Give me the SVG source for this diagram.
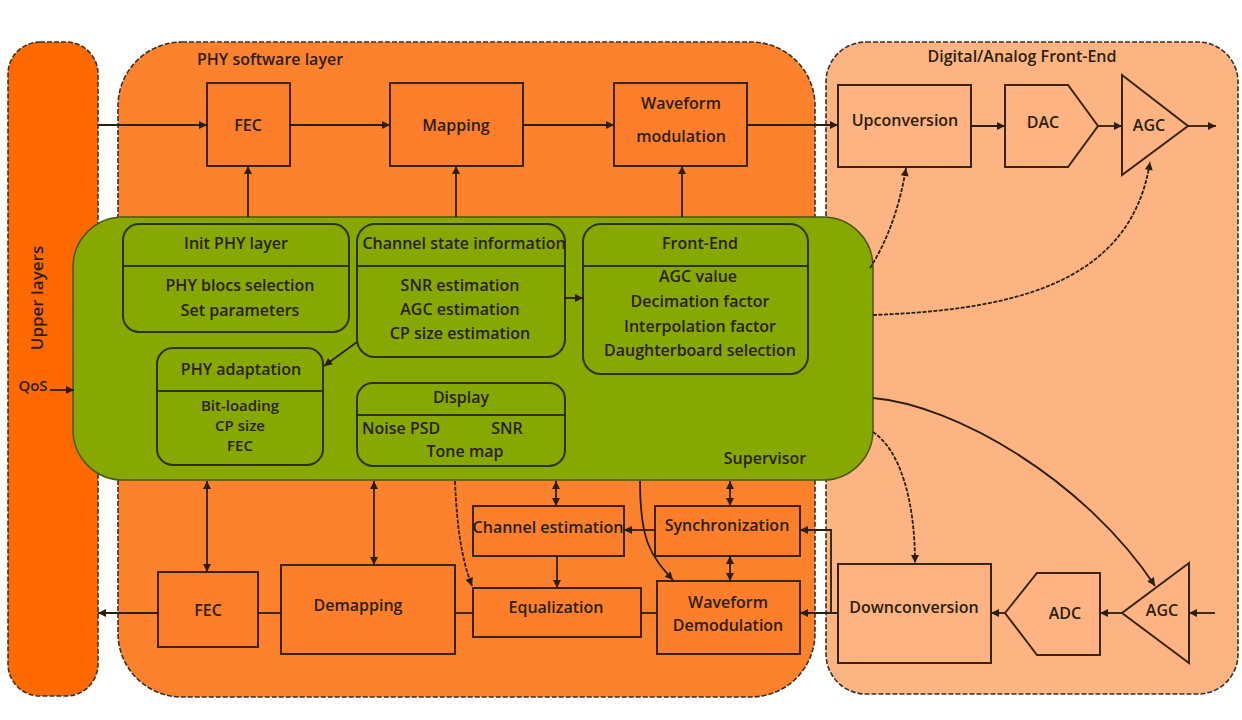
<svg xmlns="http://www.w3.org/2000/svg" width="1242" height="720" viewBox="0 0 1242 720">
<defs>
<marker id="ah" viewBox="0 0 10 10" refX="10" refY="5" markerUnits="userSpaceOnUse" markerWidth="9" markerHeight="8" orient="auto-start-reverse">
<path d="M0,0 L10,5 L0,10 z" fill="#2a1e0e"/>
</marker>
<style>
text{font-family:"Open Sans","Liberation Sans",sans-serif;font-weight:600;fill:#2a1e0e;text-anchor:middle;dominant-baseline:central}
.region{stroke:#3b2f22;stroke-width:1.6;stroke-dasharray:5 2}
.phyb{fill:#fd7f2c;stroke:#3a2410;stroke-width:2}
.feb{fill:#fdb382;stroke:#3a2410;stroke-width:2}
.sub{fill:#86a800;stroke:#2e3208;stroke-width:2}
.lbl{font-size:16px}
.sm{font-size:15px}
.c{fill:none;stroke:#2a1e0e;stroke-width:1.8}
.d{stroke-dasharray:4 1.5}
.a{marker-end:url(#ah)}
.aa{marker-start:url(#ah);marker-end:url(#ah)}
</style>
</defs>
<rect width="1242" height="720" fill="#ffffff"/>

<g id="upper-layers">
<rect x="8" y="42" width="90" height="654" rx="32" fill="#ff6a00" class="region"/>
<text class="lbl" transform="translate(36,298) rotate(-90)" style="font-size:17px">Upper layers</text>
<text class="sm" x="33" y="385">QoS</text>
</g>

<g id="phy-layer">
<rect x="118" y="42" width="697" height="655" rx="64" fill="#fd822e" class="region"/>
<text class="lbl" x="270" y="59">PHY software layer</text>
</g>

<g id="frontend-layer">
<rect x="826" y="42" width="412" height="652" rx="40" fill="#fdb483" class="region" stroke-dasharray="3 1.5"/>
<text class="lbl" x="1022" y="56">Digital/Analog Front-End</text>
</g>

<g id="supervisor">
<rect x="73" y="217" width="800" height="263" rx="50" fill="#86a800" stroke="#4a5510" stroke-width="1.5"/>
<text class="lbl" x="765" y="458">Supervisor</text>
</g>

<g id="init-phy">
<rect x="123" y="224" width="226" height="108" rx="16" class="sub"/>
<line x1="123" y1="266" x2="349" y2="266" stroke="#2e3208" stroke-width="2"/>
<text class="lbl" x="236" y="243">Init PHY layer</text>
<text class="lbl" x="240" y="285">PHY blocs selection</text>
<text class="lbl" x="240" y="310">Set parameters</text>
</g>

<g id="csi">
<rect x="357" y="224" width="208" height="133" rx="18" class="sub"/>
<line x1="357" y1="266" x2="565" y2="266" stroke="#2e3208" stroke-width="2"/>
<text class="lbl" x="464" y="243">Channel state information</text>
<text class="lbl" x="460" y="285">SNR estimation</text>
<text class="lbl" x="460" y="309">AGC estimation</text>
<text class="lbl" x="460" y="333">CP size estimation</text>
</g>

<g id="front-end-info">
<rect x="583" y="224" width="225" height="150" rx="18" class="sub"/>
<line x1="583" y1="266" x2="808" y2="266" stroke="#2e3208" stroke-width="2"/>
<text class="lbl" x="700" y="243">Front-End</text>
<text class="lbl" x="698" y="276">AGC value</text>
<text class="lbl" x="700" y="301">Decimation factor</text>
<text class="lbl" x="700" y="326">Interpolation factor</text>
<text class="lbl" x="700" y="350">Daughterboard selection</text>
</g>

<g id="phy-adaptation">
<rect x="157" y="348" width="166" height="117" rx="16" class="sub"/>
<line x1="157" y1="391" x2="323" y2="391" stroke="#2e3208" stroke-width="2"/>
<text class="lbl" x="241" y="369">PHY adaptation</text>
<text class="sm" x="240" y="405">Bit-loading</text>
<text class="sm" x="240" y="425">CP size</text>
<text class="sm" x="240" y="445">FEC</text>
</g>

<g id="display">
<rect x="357" y="383" width="208" height="83" rx="16" class="sub"/>
<line x1="357" y1="415" x2="565" y2="415" stroke="#2e3208" stroke-width="2"/>
<text class="lbl" x="461" y="397">Display</text>
<text class="lbl" x="362" y="428" style="text-anchor:start">Noise PSD</text>
<text class="lbl" x="507" y="428">SNR</text>
<text class="lbl" x="465" y="451">Tone map</text>
</g>

<g id="fec-tx"><rect x="207" y="83" width="83" height="83" class="phyb"/><text class="lbl" x="248" y="125">FEC</text></g>
<g id="mapping"><rect x="390" y="83" width="133" height="83" class="phyb"/><text class="lbl" x="456" y="125">Mapping</text></g>
<g id="waveform-mod"><rect x="614" y="83" width="133" height="83" class="phyb"/><text class="lbl" x="681" y="103">Waveform</text><text class="lbl" x="681" y="136">modulation</text></g>

<g id="upconversion"><rect x="838" y="85" width="133" height="82" class="feb"/><text class="lbl" x="905" y="120">Upconversion</text></g>
<g id="dac"><path d="M1005,85 L1068,85 L1098,126 L1068,167 L1005,167 Z" class="feb"/><text class="lbl" x="1043" y="122">DAC</text></g>
<g id="agc-tx"><path d="M1122,75 L1188,126 L1122,175 Z" class="feb"/><text class="lbl" x="1149" y="125">AGC</text></g>

<g id="fec-rx"><rect x="158" y="572" width="100" height="75" class="phyb"/><text class="lbl" x="208" y="610">FEC</text></g>
<g id="demapping"><rect x="281" y="565" width="174" height="89" class="phyb"/><text class="lbl" x="358" y="605">Demapping</text></g>
<g id="channel-estimation"><rect x="473" y="506" width="151" height="50" class="phyb"/><text class="lbl" x="548" y="527">Channel estimation</text></g>
<g id="synchronization"><rect x="655" y="506" width="145" height="50" class="phyb"/><text class="lbl" x="727" y="525">Synchronization</text></g>
<g id="equalization"><rect x="473" y="588" width="168" height="49" class="phyb"/><text class="lbl" x="556" y="607">Equalization</text></g>
<g id="waveform-demod"><rect x="657" y="581" width="143" height="73" class="phyb"/><text class="lbl" x="728" y="602">Waveform</text><text class="lbl" x="728" y="625">Demodulation</text></g>

<g id="downconversion"><rect x="838" y="564" width="153" height="99" class="feb"/><text class="lbl" x="914" y="607">Downconversion</text></g>
<g id="adc"><path d="M1005,613 L1037,573 L1100,573 L1100,655 L1037,655 Z" class="feb"/><text class="lbl" x="1065" y="613">ADC</text></g>
<g id="agc-rx"><path d="M1189,563 L1122,613 L1189,663 Z" class="feb"/><text class="lbl" x="1162" y="610">AGC</text></g>

<g id="connectors">
<line x1="98" y1="125" x2="207" y2="125" class="c a"/>
<line x1="290" y1="125" x2="390" y2="125" class="c a"/>
<line x1="523" y1="125" x2="614" y2="125" class="c a"/>
<line x1="747" y1="125" x2="838" y2="125" class="c a"/>
<line x1="971" y1="126" x2="1005" y2="126" class="c a"/>
<line x1="1098" y1="126" x2="1122" y2="126" class="c a"/>
<line x1="1188" y1="126" x2="1216" y2="126" class="c a"/>
<line x1="248" y1="217" x2="248" y2="166" class="c a"/>
<line x1="456" y1="217" x2="456" y2="166" class="c a"/>
<line x1="682" y1="217" x2="682" y2="166" class="c a"/>
<line x1="357" y1="342" x2="324" y2="366" class="c a"/>
<line x1="565" y1="298" x2="583" y2="298" class="c a"/>
<line x1="50" y1="390" x2="74" y2="390" class="c a"/>
<path d="M870,268 C888,240 900,205 906,168" class="c d a"/>
<path d="M873,315 C1000,310 1130,290 1150,162" class="c d a"/>
<path d="M873,398 C955,405 1085,480 1155,586" class="c a"/>
<path d="M873,432 C900,450 915,500 915,563" class="c d a"/>
<line x1="1215" y1="613" x2="1189" y2="613" class="c a"/>
<line x1="1122" y1="613" x2="1100" y2="613" class="c a"/>
<line x1="1005" y1="613" x2="991" y2="613" class="c a"/>
<line x1="838" y1="613" x2="800" y2="613" class="c a"/>
<polyline points="831,613 831,530 800,530" class="c a"/>
<line x1="657" y1="613" x2="641" y2="613" class="c"/>
<line x1="473" y1="613" x2="455" y2="613" class="c"/>
<line x1="281" y1="613" x2="258" y2="613" class="c"/>
<line x1="158" y1="613" x2="98" y2="613" class="c a"/>
<line x1="207" y1="481" x2="207" y2="572" class="c aa"/>
<line x1="374" y1="481" x2="374" y2="565" class="c aa"/>
<line x1="556" y1="481" x2="556" y2="506" class="c aa"/>
<line x1="730" y1="481" x2="730" y2="506" class="c aa"/>
<line x1="730" y1="556" x2="730" y2="581" class="c aa"/>
<line x1="557" y1="556" x2="557" y2="588" class="c a"/>
<line x1="655" y1="530" x2="624" y2="530" class="c a"/>
<path d="M455,481 C457,530 462,560 472,586" class="c d a"/>
<path d="M640,481 C640,540 650,555 673,580" class="c a"/>
</g>
</svg>
